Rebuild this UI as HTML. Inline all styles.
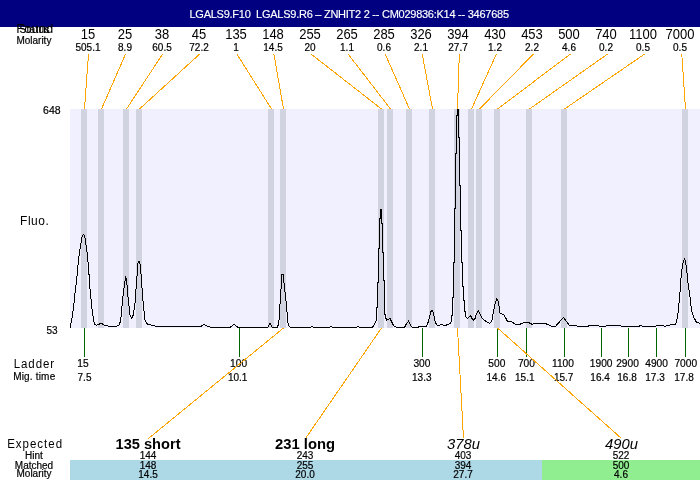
<!DOCTYPE html><html><head><meta charset="utf-8"><title>LGALS9</title><style>
html,body{margin:0;padding:0;background:#fff;width:700px;height:480px;overflow:hidden}
svg{display:block;font-family:"Liberation Sans",sans-serif;will-change:transform}
text{white-space:pre}
text[font-size="10"],text[font-size="10.2"],text[font-size="10.5"]{stroke:#000;stroke-width:0.2px}
</style></head><body>
<svg width="700" height="480" viewBox="0 0 700 480">
<rect x="0" y="0" width="700" height="27" fill="#000080"/>
<text x="189.5" y="18" fill="#fff" style="stroke:#fff;stroke-width:0.15px" font-size="11" textLength="319.5" lengthAdjust="spacing">LGALS9.F10&#160;&#160;LGALS9.R6 &#8211; ZNHIT2 2 -- CM029836:K14 -- 3467685</text>
<text x="16.3" y="32.8" font-size="13">Found</text>
<text x="19.4" y="32.8" font-size="10" textLength="30" lengthAdjust="spacing">Status</text>
<text x="16.4" y="43.6" font-size="10">Molarity</text>
<text x="88" y="38.6" font-size="13" text-anchor="middle" transform="translate(0 38.6) scale(1 1.06) translate(0 -38.6)">15</text>
<text x="88" y="50.5" font-size="10" text-anchor="middle">505.1</text>
<text x="125" y="38.6" font-size="13" text-anchor="middle" transform="translate(0 38.6) scale(1 1.06) translate(0 -38.6)">25</text>
<text x="125" y="50.5" font-size="10" text-anchor="middle">8.9</text>
<text x="162" y="38.6" font-size="13" text-anchor="middle" transform="translate(0 38.6) scale(1 1.06) translate(0 -38.6)">38</text>
<text x="162" y="50.5" font-size="10" text-anchor="middle">60.5</text>
<text x="199" y="38.6" font-size="13" text-anchor="middle" transform="translate(0 38.6) scale(1 1.06) translate(0 -38.6)">45</text>
<text x="199" y="50.5" font-size="10" text-anchor="middle">72.2</text>
<text x="236" y="38.6" font-size="13" text-anchor="middle" transform="translate(0 38.6) scale(1 1.06) translate(0 -38.6)">135</text>
<text x="236" y="50.5" font-size="10" text-anchor="middle">1</text>
<text x="273" y="38.6" font-size="13" text-anchor="middle" transform="translate(0 38.6) scale(1 1.06) translate(0 -38.6)">148</text>
<text x="273" y="50.5" font-size="10" text-anchor="middle">14.5</text>
<text x="310" y="38.6" font-size="13" text-anchor="middle" transform="translate(0 38.6) scale(1 1.06) translate(0 -38.6)">255</text>
<text x="310" y="50.5" font-size="10" text-anchor="middle">20</text>
<text x="347" y="38.6" font-size="13" text-anchor="middle" transform="translate(0 38.6) scale(1 1.06) translate(0 -38.6)">265</text>
<text x="347" y="50.5" font-size="10" text-anchor="middle">1.1</text>
<text x="384" y="38.6" font-size="13" text-anchor="middle" transform="translate(0 38.6) scale(1 1.06) translate(0 -38.6)">285</text>
<text x="384" y="50.5" font-size="10" text-anchor="middle">0.6</text>
<text x="421" y="38.6" font-size="13" text-anchor="middle" transform="translate(0 38.6) scale(1 1.06) translate(0 -38.6)">326</text>
<text x="421" y="50.5" font-size="10" text-anchor="middle">2.1</text>
<text x="458" y="38.6" font-size="13" text-anchor="middle" transform="translate(0 38.6) scale(1 1.06) translate(0 -38.6)">394</text>
<text x="458" y="50.5" font-size="10" text-anchor="middle">27.7</text>
<text x="495" y="38.6" font-size="13" text-anchor="middle" transform="translate(0 38.6) scale(1 1.06) translate(0 -38.6)">430</text>
<text x="495" y="50.5" font-size="10" text-anchor="middle">1.2</text>
<text x="532" y="38.6" font-size="13" text-anchor="middle" transform="translate(0 38.6) scale(1 1.06) translate(0 -38.6)">453</text>
<text x="532" y="50.5" font-size="10" text-anchor="middle">2.2</text>
<text x="569" y="38.6" font-size="13" text-anchor="middle" transform="translate(0 38.6) scale(1 1.06) translate(0 -38.6)">500</text>
<text x="569" y="50.5" font-size="10" text-anchor="middle">4.6</text>
<text x="606" y="38.6" font-size="13" text-anchor="middle" transform="translate(0 38.6) scale(1 1.06) translate(0 -38.6)">740</text>
<text x="606" y="50.5" font-size="10" text-anchor="middle">0.2</text>
<text x="643" y="38.6" font-size="13" text-anchor="middle" transform="translate(0 38.6) scale(1 1.06) translate(0 -38.6)">1100</text>
<text x="643" y="50.5" font-size="10" text-anchor="middle">0.5</text>
<text x="680" y="38.6" font-size="13" text-anchor="middle" transform="translate(0 38.6) scale(1 1.06) translate(0 -38.6)">7000</text>
<text x="680" y="50.5" font-size="10" text-anchor="middle">0.5</text>
<rect x="70" y="109" width="630" height="219" fill="#f0f0ff"/>
<rect x="81" y="109" width="6" height="219" fill="#d2d3e1"/>
<rect x="98" y="109" width="6" height="219" fill="#d2d3e1"/>
<rect x="123" y="109" width="6" height="219" fill="#d2d3e1"/>
<rect x="136" y="109" width="6" height="219" fill="#d2d3e1"/>
<rect x="268" y="109" width="6" height="219" fill="#d2d3e1"/>
<rect x="280" y="109" width="6" height="219" fill="#d2d3e1"/>
<rect x="378" y="109" width="6" height="219" fill="#d2d3e1"/>
<rect x="387" y="109" width="6" height="219" fill="#d2d3e1"/>
<rect x="406" y="109" width="6" height="219" fill="#d2d3e1"/>
<rect x="429" y="109" width="6" height="219" fill="#d2d3e1"/>
<rect x="454" y="109" width="6" height="219" fill="#d2d3e1"/>
<rect x="468" y="109" width="6" height="219" fill="#d2d3e1"/>
<rect x="476" y="109" width="6" height="219" fill="#d2d3e1"/>
<rect x="494" y="109" width="6" height="219" fill="#d2d3e1"/>
<rect x="526" y="109" width="6" height="219" fill="#d2d3e1"/>
<rect x="561" y="109" width="6" height="219" fill="#d2d3e1"/>
<rect x="682" y="109" width="6" height="219" fill="#d2d3e1"/>
<text x="60.6" y="113.7" font-size="10.5" text-anchor="end">648</text>
<text x="57.5" y="333.6" font-size="10" text-anchor="end">53</text>
<text x="0" y="0" font-size="13" textLength="31.4" lengthAdjust="spacing" transform="translate(20.0 225) scale(0.92 1.04)">Fluo.</text>
<line x1="88.50" y1="54" x2="84.5" y2="109" stroke="#ffa500" stroke-width="1" shape-rendering="crispEdges"/>
<line x1="125.58" y1="54" x2="101.5" y2="109" stroke="#ffa500" stroke-width="1" shape-rendering="crispEdges"/>
<line x1="162.66" y1="54" x2="126.5" y2="109" stroke="#ffa500" stroke-width="1" shape-rendering="crispEdges"/>
<line x1="199.74" y1="54" x2="139.5" y2="109" stroke="#ffa500" stroke-width="1" shape-rendering="crispEdges"/>
<line x1="236.82" y1="54" x2="271.5" y2="109" stroke="#ffa500" stroke-width="1" shape-rendering="crispEdges"/>
<line x1="273.90" y1="54" x2="283.5" y2="109" stroke="#ffa500" stroke-width="1" shape-rendering="crispEdges"/>
<line x1="310.98" y1="54" x2="381.5" y2="109" stroke="#ffa500" stroke-width="1" shape-rendering="crispEdges"/>
<line x1="348.06" y1="54" x2="390.5" y2="109" stroke="#ffa500" stroke-width="1" shape-rendering="crispEdges"/>
<line x1="385.14" y1="54" x2="409.5" y2="109" stroke="#ffa500" stroke-width="1" shape-rendering="crispEdges"/>
<line x1="422.22" y1="54" x2="432.5" y2="109" stroke="#ffa500" stroke-width="1" shape-rendering="crispEdges"/>
<line x1="459.30" y1="54" x2="457.5" y2="109" stroke="#ffa500" stroke-width="1" shape-rendering="crispEdges"/>
<line x1="496.38" y1="54" x2="471.5" y2="109" stroke="#ffa500" stroke-width="1" shape-rendering="crispEdges"/>
<line x1="533.46" y1="54" x2="479.5" y2="109" stroke="#ffa500" stroke-width="1" shape-rendering="crispEdges"/>
<line x1="570.54" y1="54" x2="497.5" y2="109" stroke="#ffa500" stroke-width="1" shape-rendering="crispEdges"/>
<line x1="607.62" y1="54" x2="529.5" y2="109" stroke="#ffa500" stroke-width="1" shape-rendering="crispEdges"/>
<line x1="644.70" y1="54" x2="564.5" y2="109" stroke="#ffa500" stroke-width="1" shape-rendering="crispEdges"/>
<line x1="681.78" y1="54" x2="685.5" y2="109" stroke="#ffa500" stroke-width="1" shape-rendering="crispEdges"/>
<polyline points="70.2,327.8 71.4,321.3 72.7,313.8 73.8,305.1 74.7,296.4 75.5,288.8 76.6,280.2 77.5,270.3 78.6,259.5 79.7,250.8 81,243.2 82.1,236.7 83.7,234.3 84.8,236.7 85.9,244.3 87.3,254 88.1,262.7 89.1,275.7 89.8,286.7 91.1,299.7 92.2,310.5 93.6,320.3 94.7,324.6 96.3,325.1 98.5,324.6 101.2,323 103.4,324.8 106.1,325.7 110,326.3 115,326.7 119.2,325 120.8,320 122.5,300 124.2,286.7 125.8,276.3 126.7,281.7 128.3,300 130,315 131.7,318.3 133.3,315 135,303.3 136.7,280 138,263.3 139.2,261.3 140.3,265 141.7,283.3 143.3,305 145,320 147.5,324.2 151.7,325.3 155,326 158.6,326 167.1,326.3 175.7,326.9 200.6,327 203.5,324.3 206.6,326 210,327 223.7,327 226.3,327.8 230.6,327 234,324.3 237.4,327 266.6,327 267.4,327.6 270.1,323.5 272.2,327.3 277.6,327.3 278.9,321.9 280,304.3 281,289.4 282,274.5 283,274.2 284,282.6 285.3,294.8 286.7,307 287.7,321.9 289.1,326.7 291.1,327.4 311,327.2 312,326.2 313,327.2 330,327.2 331,326.2 332,327.2 357,327.2 358,326.2 359,327.2 372.5,327.5 376.5,320.5 376.5,308 377.5,307.5 377.5,283 378.5,282.5 378.5,249 379.5,248.5 379.5,219 380.5,218.5 380.5,209.5 381.5,209.5 381.5,223 382.5,223.5 382.5,252.5 383.5,253 383.5,280.5 384.5,281 384.5,312.5 386.5,320.5 390,318.5 393.5,325.5 396.5,327.3 404.6,327.3 405.9,324.6 408.4,321.2 410.7,325.3 412.1,327.1 418.3,327.1 420,326.3 426.7,326.3 428.3,321.7 429.6,316.7 430.8,311.7 431.8,310.4 432.9,311.7 434.2,316.7 435.4,322.5 437.1,325.4 439.2,325.4 440.5,324.5 441.9,324.5 443.75,325.5 445.6,325.5 447.5,324.5 450,323.5 451.5,321.5 451.5,315.5 452.5,315 452.5,298 453.5,297.5 453.5,262.5 454.5,262 454.5,209 455.5,208.5 455.5,154 456.5,153.5 456.5,115.5 457.5,115 457.5,109.5 458.5,109.5 458.5,137 459.5,137.5 459.5,185 460.5,185.5 460.5,230 461.5,230.5 461.5,262.5 462.5,263 462.5,286 463.5,286.5 463.5,300.5 464.5,301 464.5,311 465.5,311.5 465.5,316 466.25,317.5 467.5,318.5 468.75,317.5 470.6,315.5 471.9,318.5 473.75,320.5 475,318.5 476,315.4 478.1,310.7 479.7,313.3 481.8,318 483.3,319.6 486.5,321.7 489.6,323.2 491.7,321.7 492.7,315.4 493.75,310.2 495.3,302.9 496.7,298.75 497.9,300.3 499,306 500,313.3 502,313.9 503.6,314.4 505.2,317 506.8,320.1 508.3,321.7 510.7,321.4 515.7,324.3 520,324.3 523.6,322.6 528.6,322.6 532.1,324.3 536.4,323.3 540.7,324 545,323.3 547.9,324.6 551.4,326.1 555.7,326.1 559.3,322.1 563.3,317.4 566.4,321.4 569.3,325.3 576.4,325.7 577.9,326.4 587.9,326.4 589.3,325.4 597.9,325.4 600,326.4 605,326.4 607.1,325.4 620,325.4 621.4,326.4 638.6,326.4 640.7,325.4 642.9,326.4 655.7,326.4 657.1,325.4 662.9,325.4 665,326.4 667.9,325.4 671.4,324.6 675.7,324 677.1,318.6 678.3,311.4 679.3,300 680.3,289 681.1,276.4 682.2,267.2 683.3,261.5 684.5,259.2 685.6,261.5 686.8,270.6 687.9,282.1 689.3,292.4 690.5,300.5 691.4,310 693.6,317.1 696.4,322.1 699.3,323.1 700,323.2" fill="none" stroke="#000" stroke-width="1" shape-rendering="crispEdges"/>
<line x1="84.5" y1="328" x2="84.5" y2="357" stroke="#006400" stroke-width="1"/>
<text x="83.0" y="366.8" font-size="10.2" text-anchor="middle">15</text>
<text x="84.5" y="380.6" font-size="10" text-anchor="middle">7.5</text>
<line x1="239.5" y1="328" x2="239.5" y2="357" stroke="#006400" stroke-width="1"/>
<text x="238.60000000000002" y="366.8" font-size="10.2" text-anchor="middle">100</text>
<text x="237.7" y="380.6" font-size="10" text-anchor="middle">10.1</text>
<line x1="422.5" y1="328" x2="422.5" y2="357" stroke="#006400" stroke-width="1"/>
<text x="421.9" y="366.8" font-size="10.2" text-anchor="middle">300</text>
<text x="421.79999999999995" y="380.6" font-size="10" text-anchor="middle">13.3</text>
<line x1="497.5" y1="328" x2="497.5" y2="357" stroke="#006400" stroke-width="1"/>
<text x="496.79999999999995" y="366.8" font-size="10.2" text-anchor="middle">500</text>
<text x="496.29999999999995" y="380.6" font-size="10" text-anchor="middle">14.6</text>
<line x1="526.5" y1="328" x2="526.5" y2="357" stroke="#006400" stroke-width="1"/>
<text x="526.4000000000001" y="366.8" font-size="10.2" text-anchor="middle">700</text>
<text x="524.8" y="380.6" font-size="10" text-anchor="middle">15.1</text>
<line x1="564.5" y1="328" x2="564.5" y2="357" stroke="#006400" stroke-width="1"/>
<text x="563.0" y="366.8" font-size="10.2" text-anchor="middle">1100</text>
<text x="563.7" y="380.6" font-size="10" text-anchor="middle">15.7</text>
<line x1="601.5" y1="328" x2="601.5" y2="357" stroke="#006400" stroke-width="1"/>
<text x="601.2" y="366.8" font-size="10.2" text-anchor="middle">1900</text>
<text x="600.0999999999999" y="380.6" font-size="10" text-anchor="middle">16.4</text>
<line x1="628.5" y1="328" x2="628.5" y2="357" stroke="#006400" stroke-width="1"/>
<text x="627.5" y="366.8" font-size="10.2" text-anchor="middle">2900</text>
<text x="627.0" y="380.6" font-size="10" text-anchor="middle">16.8</text>
<line x1="656.5" y1="328" x2="656.5" y2="357" stroke="#006400" stroke-width="1"/>
<text x="656.5999999999999" y="366.8" font-size="10.2" text-anchor="middle">4900</text>
<text x="655.0" y="380.6" font-size="10" text-anchor="middle">17.3</text>
<line x1="685.5" y1="328" x2="685.5" y2="357" stroke="#006400" stroke-width="1"/>
<text x="685.8" y="366.8" font-size="10.2" text-anchor="middle">7000</text>
<text x="684.0" y="380.6" font-size="10" text-anchor="middle">17.8</text>
<text x="0" y="0" font-size="12.5" textLength="43.8" lengthAdjust="spacing" transform="translate(13.8 367.7) scale(0.92 1)">Ladder</text>
<text x="13.2" y="379.6" font-size="10" textLength="42" lengthAdjust="spacing">Mig. time</text>
<rect x="70" y="460" width="472" height="20" fill="#add8e6"/>
<rect x="542" y="460" width="158" height="20" fill="#90ee90"/>
<line x1="283.5" y1="328" x2="148.5" y2="438.5" stroke="#ffa500" stroke-width="1" shape-rendering="crispEdges"/>
<line x1="381.5" y1="328" x2="305.5" y2="438.5" stroke="#ffa500" stroke-width="1" shape-rendering="crispEdges"/>
<line x1="457.5" y1="328" x2="463.5" y2="438.5" stroke="#ffa500" stroke-width="1" shape-rendering="crispEdges"/>
<line x1="497.5" y1="328" x2="621.5" y2="438.5" stroke="#ffa500" stroke-width="1" shape-rendering="crispEdges"/>
<text x="148" y="449" font-size="14" font-weight="bold" text-anchor="middle" textLength="65" lengthAdjust="spacingAndGlyphs">135 short</text>
<text x="305" y="449" font-size="14" font-weight="bold" text-anchor="middle" textLength="60" lengthAdjust="spacingAndGlyphs">231 long</text>
<text x="463.5" y="449.3" font-size="14" font-style="italic" text-anchor="middle" textLength="33" lengthAdjust="spacingAndGlyphs">378u</text>
<text x="621.5" y="449.3" font-size="14" font-style="italic" text-anchor="middle" textLength="33" lengthAdjust="spacingAndGlyphs">490u</text>
<text x="148" y="458.6" font-size="10" text-anchor="middle">144</text>
<text x="148" y="468.6" font-size="10" text-anchor="middle">148</text>
<text x="148" y="477.5" font-size="10" text-anchor="middle">14.5</text>
<text x="305" y="458.6" font-size="10" text-anchor="middle">243</text>
<text x="305" y="468.6" font-size="10" text-anchor="middle">255</text>
<text x="305" y="477.5" font-size="10" text-anchor="middle">20.0</text>
<text x="463" y="458.6" font-size="10" text-anchor="middle">403</text>
<text x="463" y="468.6" font-size="10" text-anchor="middle">394</text>
<text x="463" y="477.5" font-size="10" text-anchor="middle">27.7</text>
<text x="621" y="458.6" font-size="10" text-anchor="middle">522</text>
<text x="621" y="468.6" font-size="10" text-anchor="middle">500</text>
<text x="621" y="477.5" font-size="10" text-anchor="middle">4.6</text>
<text x="0" y="0" font-size="12.5" textLength="59.6" lengthAdjust="spacing" transform="translate(7.2 448) scale(0.92 1)">Expected</text>
<text x="34" y="458.6" font-size="10" text-anchor="middle">Hint</text>
<text x="34" y="468.6" font-size="10" text-anchor="middle">Matched</text>
<text x="34" y="477.2" font-size="10" text-anchor="middle">Molarity</text>
</svg></body></html>
